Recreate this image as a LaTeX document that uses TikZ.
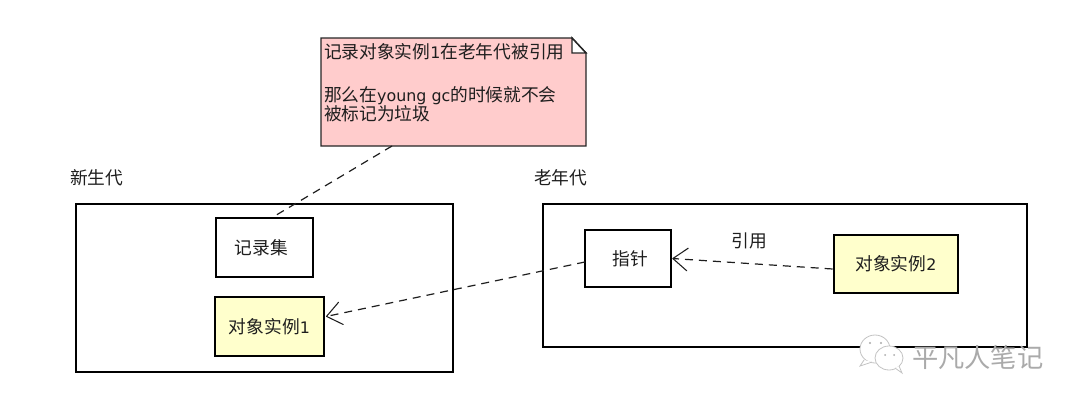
\documentclass[tikz,border=0pt]{standalone}
\usepackage{fontspec}
\setmainfont{DejaVu Sans}
\newfontfamily\cjk{Noto Sans CJK SC}
\usetikzlibrary{arrows.meta}
\definecolor{notepink}{RGB}{255,204,204}
\definecolor{objyellow}{RGB}{255,255,204}
\definecolor{ink}{RGB}{30,30,30}
\definecolor{markgray}{RGB}{170,170,170}
\newcommand{\cn}[1]{{\cjk\fontsize{13.3}{14.3}\selectfont #1}}
\tikzset{
  x=0.75pt,y=-0.75pt,
  every node/.style={inner sep=0pt,outer sep=0pt,text=ink,font=\fontsize{11.9}{14.3}\selectfont},
  region/.style={draw=black,line width=1.1pt,fill=none,anchor=north west},
  plainbox/.style={draw=black,line width=1.1pt,fill=white,anchor=center},
  objbox/.style={plainbox,fill=objyellow},
  caption/.style={anchor=west},
  dep/.style={draw=ink,line width=0.9pt,dash pattern=on 6pt off 4.5pt},
  deparrow/.style={dep,-{Straight Barb[length=11pt,width=17pt,line width=0.8pt,round]}},
  notebody/.style={draw=black!85,line width=1.1pt,fill=notepink,line join=miter},
  wmtext/.style={text=markgray,font=\fontsize{19.7}{22}\selectfont,anchor=west},
  wmbubble/.style={draw=markgray!70,line width=0.6pt,fill=white},
  wmeye/.style={fill=markgray},
}
\begin{document}
\begin{tikzpicture}
\useasboundingbox (0,0) rectangle (1080,404);
% regions
\node[region,minimum width=377*0.75pt,minimum height=168*0.75pt] (young) at (76,204) {};
\node[region,minimum width=484*0.75pt,minimum height=143*0.75pt] (old) at (543,204) {};
\node[caption] (youngcap) at (70,178) {\cn{新生代}};
\node[caption] (oldcap) at (534,178) {\cn{老年代}};
% boxes
\node[plainbox,minimum width=97*0.75pt,minimum height=59*0.75pt] (record) at (264.5,247.5) {\hspace*{-4.5pt}\raisebox{-0.5pt}{\cn{记录集}}};
\node[objbox,minimum width=109*0.75pt,minimum height=59*0.75pt] (obj1) at (269.5,326.5) {\cn{对象实例}1};
\node[plainbox,minimum width=86*0.75pt,minimum height=57*0.75pt] (ptr) at (628,258.5) {\hspace*{3pt}\raisebox{-1pt}{\cn{指针}}};
\node[objbox,minimum width=124*0.75pt,minimum height=58*0.75pt] (obj2) at (896,264) {\cn{对象实例}2};
% note
\coordinate (noteNW) at (321,38);
\coordinate (noteSE) at (586,146);
\coordinate (foldA) at (572,38);
\coordinate (foldB) at (586,53);
\coordinate (foldC) at (572,53);
\path[notebody] (noteNW) -- (foldA) -- (foldB) -- (noteSE) -- (noteNW |- noteSE) -- cycle;
\draw[draw=black!85,line width=1.1pt,fill=white] (foldA) -- (foldC) -- (foldB) -- cycle;
\node[anchor=north west,align=left] (notetext) at (324,43) {\cn{记录对象实例}1\cn{在老年代被引用}\\[18pt]\cn{那么在}young gc\cn{的时候就不会}\\\cn{被标记为垃圾}};
% connectors
\coordinate (noteEnd) at (392,146);
\coordinate (recEnd) at (273,217);
\draw[dep] (noteEnd) -- (recEnd);
\draw[deparrow] ([yshift=-2.6pt]ptr.west) -- ([xshift=1.5pt,yshift=7.5pt]obj1.east);
\draw[deparrow] ([yshift=-3.75pt,xshift=-1pt]obj2.west) -- ([xshift=1pt]ptr.east);
\node[anchor=center] (reflabel) at (749,241) {\cn{引用}};
% watermark
\fill[white] (905,352) rectangle (1045,368);
\path[wmbubble] (875,349) ellipse [x radius=15,y radius=14];
\path[wmbubble] (864,360) -- (860,366) -- (872,362);
\path[wmbubble] (889,358) ellipse [x radius=14,y radius=12];
\path[wmbubble] (895,368) -- (902,373) -- (899,366);
\fill[wmeye] (870,343) circle [radius=1.2];
\fill[wmeye] (881,343) circle [radius=1.2];
\fill[wmeye] (885,355) circle [radius=1];
\fill[wmeye] (894,355) circle [radius=1];
\node[wmtext] (mark) at (912,357) {\cn{\fontsize{19.7}{22}\selectfont 平凡人笔记}};
\end{tikzpicture}
\end{document}
